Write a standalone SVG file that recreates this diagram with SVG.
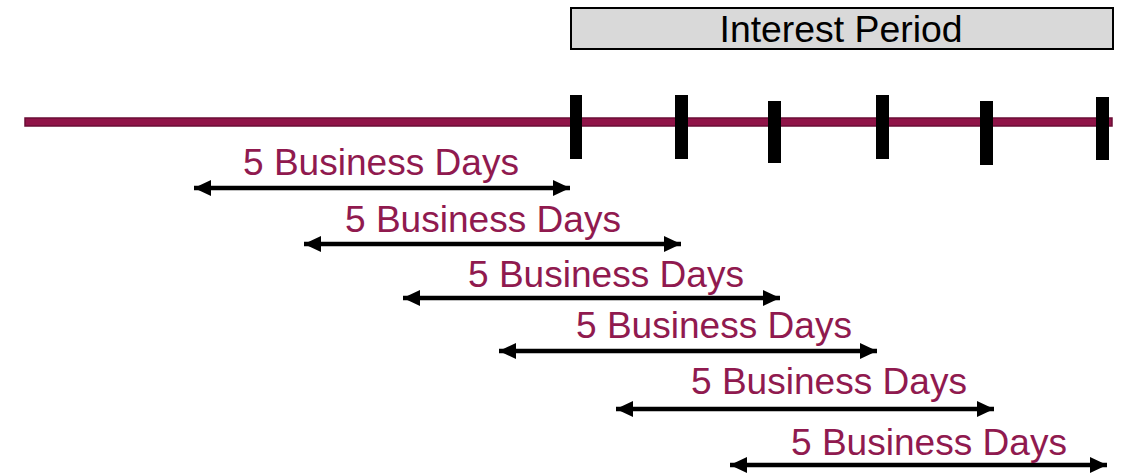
<svg xmlns="http://www.w3.org/2000/svg" width="1125" height="473" viewBox="0 0 1125 473">
<style>
.lbl{font-family:"Liberation Sans",Arial,sans-serif;font-size:36px;fill:#901A4F;text-anchor:middle}
.title{font-family:"Liberation Sans",Arial,sans-serif;font-size:37px;fill:#000;text-anchor:middle}
.tick{fill:#000}
.arr{stroke:#000;stroke-width:4.5;fill:none;marker-start:url(#ah);marker-end:url(#ah)}
</style>
<defs>
<marker id="ah" markerUnits="userSpaceOnUse" markerWidth="17" markerHeight="16" refX="17" refY="8" orient="auto-start-reverse">
<path d="M0,0 L17,8 L0,16 z" fill="#000"/>
</marker>
</defs>
<rect width="1125" height="473" fill="#fff"/>
<g id="interest-period">
<rect x="571" y="8" width="542" height="41" fill="#D9D9D9" stroke="#000" stroke-width="2"/>
<text class="title" x="841" y="42" textLength="243" lengthAdjust="spacingAndGlyphs">Interest Period</text>
</g>
<g id="timeline">
<rect x="25" y="118" width="1087" height="8" fill="#901448" stroke="#6A0E36" stroke-width="1.5"/>
<rect class="tick" x="570" y="95" width="12" height="64"/>
<rect class="tick" x="675" y="95" width="13" height="64"/>
<rect class="tick" x="768" y="101" width="13" height="62"/>
<rect class="tick" x="876" y="95" width="13" height="64"/>
<rect class="tick" x="980" y="101" width="13" height="64"/>
<rect class="tick" x="1096" y="97" width="13" height="63"/>
</g>
<g id="connectors">
<line class="arr" x1="194" y1="188" x2="570" y2="188"/>
<line class="arr" x1="304" y1="244" x2="681" y2="244"/>
<line class="arr" x1="403" y1="298" x2="780" y2="298"/>
<line class="arr" x1="499" y1="351" x2="877" y2="351"/>
<line class="arr" x1="616" y1="409" x2="994" y2="409"/>
<line class="arr" x1="730" y1="465" x2="1107" y2="465"/>
</g>
<g id="label-1"><text class="lbl" x="381" y="175" textLength="276" lengthAdjust="spacingAndGlyphs">5 Business Days</text></g>
<g id="label-2"><text class="lbl" x="483" y="232" textLength="276" lengthAdjust="spacingAndGlyphs">5 Business Days</text></g>
<g id="label-3"><text class="lbl" x="606" y="287" textLength="276" lengthAdjust="spacingAndGlyphs">5 Business Days</text></g>
<g id="label-4"><text class="lbl" x="714" y="338" textLength="276" lengthAdjust="spacingAndGlyphs">5 Business Days</text></g>
<g id="label-5"><text class="lbl" x="829" y="394" textLength="276" lengthAdjust="spacingAndGlyphs">5 Business Days</text></g>
<g id="label-6"><text class="lbl" x="929" y="455" textLength="276" lengthAdjust="spacingAndGlyphs">5 Business Days</text></g>
</svg>
